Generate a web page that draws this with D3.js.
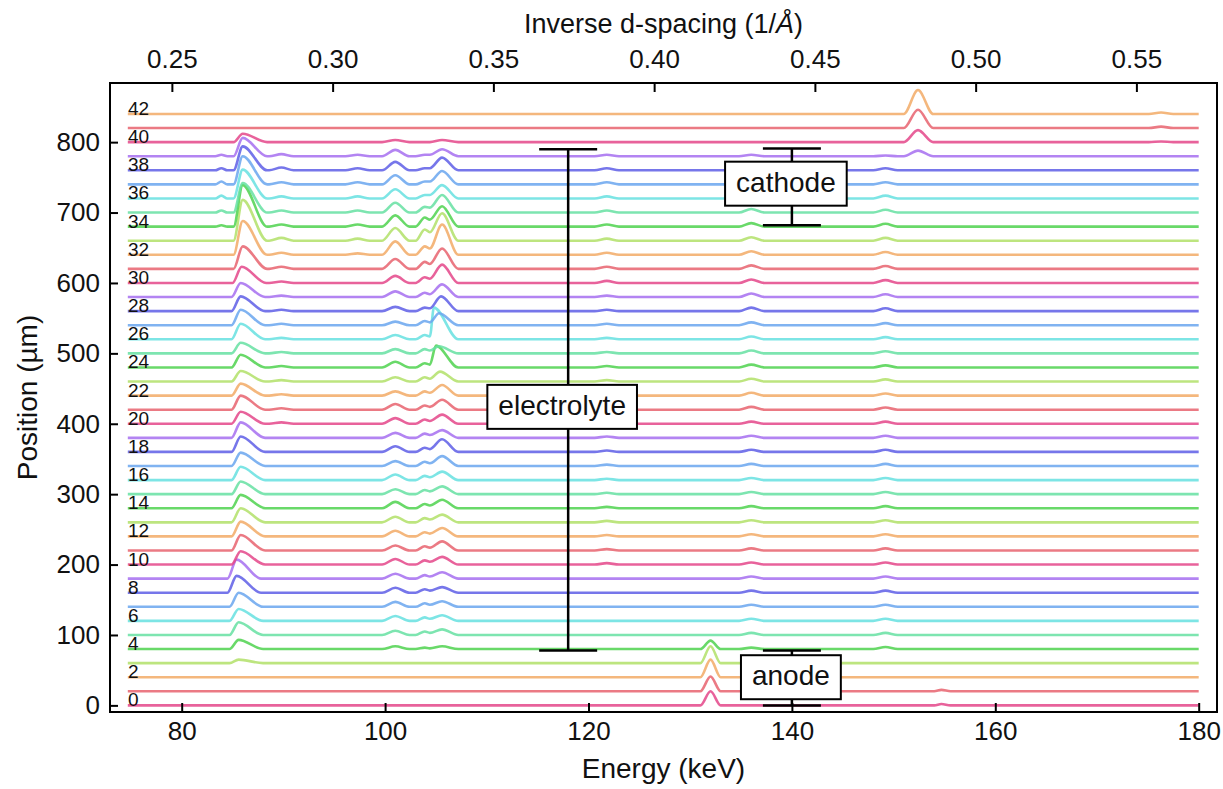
<!DOCTYPE html>
<html>
<head>
<meta charset="utf-8">
<script src="https://cdn.jsdelivr.net/npm/d3@7"></script>
<style>
  body { margin: 0; background: #fff; }
  svg { font-family: "Liberation Sans", Arial, sans-serif; }
</style>
</head>
<body>
<svg id="chart" width="1223" height="789"></svg>
<script>
// scan positions (µm), one spectrum each
const positions = [0, 20, 40, 60, 80, 100, 120, 140, 160, 180, 200, 220, 240, 260, 280, 300, 320, 340, 360, 380, 400,
  420, 440, 460, 480, 500, 520, 540, 560, 580, 600, 620, 640, 660, 680, 700, 720, 740, 760, 780, 800, 820, 840];
const scanLabels = ['0', '', '2', '', '4', '', '6', '', '8', '', '10', '', '12', '', '14', '', '16', '', '18', '', '20',
  '', '22', '', '24', '', '26', '', '28', '', '30', '', '32', '', '34', '', '36', '', '38', '', '40', '', '42'];
const lineColors = ['#e4468a', '#e8636f', '#f2aa66', '#b2e068', '#4fd24f', '#66e0a2', '#66e0e0', '#6aa6ee', '#5e5ee6', '#a66ef0'];

const energyStart = 74.7, energyEnd = 180;
const energyTicks = [80, 100, 120, 140, 160, 180];
const positionTicks = [0, 100, 200, 300, 400, 500, 600, 700, 800];
const invDTicks = [0.25, 0.30, 0.35, 0.40, 0.45, 0.50, 0.55];
const invDPerKeV = 0.0031632;

// peak heights (µm of offset) read per scan, index = scan number
const shoulder84 = [0,0,0,0,0,0,0,0,0,0,0,0,0,0,0,0,0,0,0,0,0,0,0,0,0,0,0,0,0,0,0,0,0,0,2,3,4,4,3,2,0,0,0];
const peak86E = [85.8,85.8,85.8,85.6,85.6,85.6,85.6,85.6,85.4,85.4,85.8,85.8,85.8,85.8,85.8,85.8,85.8,85.8,85.8,85.8,85.8,
  85.8,85.8,85.8,85.8,85.8,85.8,85.8,85.8,85.8,85.9,86.0,86.0,86.0,86.0,86.0,86.0,86.0,86.0,86.0,86.0,86.0,86.0];
const peak86 = [0,0,0,5,13,18,17,20,24,27,19,22,21,20,19,18,19,19,22,22,17,20,17,15,18,15,22,22,21,20,23,32,48,58,59,42,41,40,34,26,12,0,0];
const bump90 = [0,0,0,0,0,0,0,0,0,0,0,0,0,0,0,0,0,0,0,0,2,2,2,2,2,2,2,2,2,2,2,3,3,4,3,3,3,3,4,3,0,0,0];
const bump97 = [0,0,0,0,0,0,0,0,0,0,0,0,0,0,0,0,0,0,0,0,0,0,0,0,0,0,0,0,0,0,0,0,2,3,3,3,3,3,3,2,0,0,0];
const peak101 = [0,0,0,0,4,6,7,7,7,7,8,7,8,8,9,7,8,7,8,7,8,8,6,6,8,6,6,5,6,8,10,14,19,18,16,14,13,13,12,9,3,0,0];
const peak104 = [0,0,0,0,2,5,5,5,5,5,6,6,6,6,6,6,6,6,6,6,6,6,6,6,6,6,6,6,5,6,8,10,12,16,13,8,5,4,3,2,0,0,0];
const valley104 = [0,0,0,0,1,3,3,3,3,3,4,4,4,4,4,4,4,4,4,4,4,4,4,4,4,4,4,4,4,4,6,7,9,12,10,7,5,4,3,2,0,0,0];
const peak105E = [105.6,105.6,105.6,105.6,105.6,105.6,105.6,105.6,105.6,105.6,105.6,105.6,105.6,105.6,105.6,105.6,105.6,105.6,105.6,105.6,105.6,
  105.6,105.6,105.4,105.0,105.3,104.8,105.3,105.5,105.6,105.6,105.6,105.6,105.6,105.6,105.6,105.6,105.6,105.6,105.6,105.6,105.6,105.6];
const peak105 = [0,0,0,0,4,8,8,8,8,9,11,13,12,11,12,11,12,14,18,11,13,14,15,14,31,10,45,17,21,18,26,29,43,39,29,25,19,19,18,10,3,0,0];
const bump122 = [0,0,0,0,0,0,0,0,0,0,2,2,2,2,2,2,2,2,2,2,2,2,2,2,2,2,2,2,2,2,3,3,3,3,3,3,3,3,3,2,0,0,0];
const anode132 = [20,21,25,24,12,0,0,0,0,0,0,0,0,0,0,0,0,0,0,0,0,0,0,0,0,0,0,0,0,0,0,0,0,0,0,0,0,0,0,0,0,0,0];
const bump136 = [0,0,0,0,2,3,3,3,3,3,3,3,3,3,3,3,3,3,3,3,3,4,4,4,4,4,4,4,5,5,5,5,5,5,5,5,4,4,3,2,0,0,0];
const bump149 = [0,0,0,0,3,3,3,3,3,3,3,3,3,3,3,3,3,3,3,3,3,3,3,3,3,3,3,3,4,4,4,4,4,4,4,4,4,3,3,1,0,0,0];
const cathode152 = [0,0,0,0,0,0,0,0,0,0,0,0,0,0,0,0,0,0,0,0,0,0,0,0,0,0,0,0,0,0,0,0,0,0,0,0,0,0,0,8,17,26,34];
const bump154 = [2,2,0,0,0,0,0,0,0,0,0,0,0,0,0,0,0,0,0,0,0,0,0,0,0,0,0,0,0,0,0,0,0,0,0,0,0,0,0,0,0,0,0];
const bump176 = [0,0,0,0,0,0,0,0,0,0,0,0,0,0,0,0,0,0,0,0,0,0,0,0,0,0,0,0,0,0,0,0,0,0,0,0,0,0,0,0,1,2,2];

// region brackets: energy of the bar, start / end position, label position
const regionNames = ['anode', 'electrolyte', 'cathode'];
const regionEnergy = [140, 118, 140];
const regionFrom = [0, 78, 682];
const regionTo = [78, 790, 791];
const regionLabelAt = [40, 424, 741];
const regionLabelShift = [-1, -6, -6];

const frame = { left: 110, right: 1217, top: 83, bottom: 712 };

const svg = d3.select('#chart');

const x = d3.scaleLinear().domain([72.95, 181.8]).range([frame.left, frame.right]);
const y = d3.scaleLinear().domain([-9.4, 884]).range([frame.bottom, frame.top]);
const xTop = d3.scaleLinear().domain(x.domain().map(e => e * invDPerKeV)).range(x.range());

function knotsFor(i) {
    const k = [[energyStart, 0]];
    const bump = (c, h, l, r) => { k.push([c - l, 0], [c, h], [c + r, 0]); };
    bump(83.9, shoulder84[i], 0.6, 0.6);
    bump(peak86E[i], peak86[i], 0.9, 2.4);
    bump(89.8, bump90[i], 1.2, 1.2);
    bump(97.3, bump97[i], 1.2, 1.2);
    bump(101.0, peak101[i], 1.3, 1.4);
    k.push([103.0, 0], [103.9, peak104[i]], [104.4, valley104[i]], [peak105E[i], peak105[i]], [107.2, 0]);
    bump(121.8, bump122[i], 1.2, 1.2);
    bump(132.0, anode132[i], 1.0, 1.0);
    bump(136.0, bump136[i], 1.2, 1.3);
    bump(149.2, bump149[i], 1.2, 1.2);
    bump(152.4, cathode152[i], 1.4, 1.5);
    bump(154.7, bump154[i], 0.7, 0.9);
    bump(176.3, bump176[i], 1.2, 1.2);
    k.push([energyEnd, 0]);
    return k;
}

// spectra
const traces = svg.append('g');
positions.forEach((pos, i) => {
    const line = d3.line()
        .x(d => x(d[0]))
        .y(d => y(pos + d[1]))
        .curve(d3.curveMonotoneX);
    traces.append('path')
        .attr('d', line(knotsFor(i)))
        .attr('fill', 'none')
        .attr('stroke', lineColors[i % lineColors.length])
        .attr('stroke-opacity', 0.85)
        .attr('stroke-width', 2.6)
        .attr('stroke-linejoin', 'round');
});

// scan numbers
svg.append('g').selectAll('text')
    .data(positions.map((p, i) => ({ p, t: scanLabels[i] })).filter(d => d.t))
    .enter().append('text')
    .attr('x', 128)
    .attr('y', d => y(d.p) + 1)
    .attr('font-size', 19)
    .attr('fill', '#111')
    .text(d => d.t);

// brackets with boxed labels
const capHalf = 29;
const ann = svg.append('g');
regionNames.forEach((name, i) => {
    const cx = x(regionEnergy[i]);
    const y1 = y(regionFrom[i]), y2 = y(regionTo[i]);
    ann.append('line').attr('x1', cx).attr('x2', cx).attr('y1', y1).attr('y2', y2)
        .attr('stroke', '#000').attr('stroke-width', 2.5);
    [y1, y2].forEach(yy => {
        ann.append('line').attr('x1', cx - capHalf).attr('x2', cx + capHalf).attr('y1', yy).attr('y2', yy)
            .attr('stroke', '#000').attr('stroke-width', 2.5);
    });
    const lx = cx + regionLabelShift[i];
    const cy = y(regionLabelAt[i]);
    const box = ann.append('rect').attr('fill', '#fff').attr('stroke', '#000').attr('stroke-width', 2);
    const txt = ann.append('text')
        .attr('x', lx).attr('y', cy + 8)
        .attr('text-anchor', 'middle')
        .attr('font-size', 28)
        .attr('fill', '#111')
        .text(name);
    const tw = txt.node().getComputedTextLength();
    box.attr('x', lx - tw / 2 - 11).attr('width', tw + 22)
        .attr('y', cy - 22).attr('height', 44);
});

// axes, ticks pointing inward
const bottomAxis = svg.append('g')
    .attr('transform', `translate(0,${frame.bottom})`)
    .call(d3.axisBottom(x).tickValues(energyTicks).tickSize(-9).tickPadding(10).tickFormat(d3.format('d')));
const leftAxis = svg.append('g')
    .attr('transform', `translate(${frame.left},0)`)
    .call(d3.axisLeft(y).tickValues(positionTicks).tickSize(-8).tickPadding(10).tickFormat(d3.format('d')));
const topAxis = svg.append('g')
    .attr('transform', `translate(0,${frame.top})`)
    .call(d3.axisTop(xTop).tickValues(invDTicks).tickSize(-9).tickPadding(15).tickFormat(d3.format('.2f')));

[bottomAxis, leftAxis, topAxis].forEach(g => {
    g.select('.domain').remove();
    g.selectAll('.tick line').attr('stroke', '#000').attr('stroke-width', 2);
    g.selectAll('.tick text').attr('font-size', 26).attr('fill', '#111')
        .attr('font-family', '"Liberation Sans", Arial, sans-serif');
});

svg.append('rect')
    .attr('x', frame.left).attr('y', frame.top)
    .attr('width', frame.right - frame.left).attr('height', frame.bottom - frame.top)
    .attr('fill', 'none').attr('stroke', '#000').attr('stroke-width', 2);

// titles
svg.append('text')
    .attr('x', (frame.left + frame.right) / 2).attr('y', 778)
    .attr('text-anchor', 'middle').attr('font-size', 28).attr('fill', '#111')
    .text('Energy (keV)');

const topTitle = svg.append('text')
    .attr('x', (frame.left + frame.right) / 2).attr('y', 33)
    .attr('text-anchor', 'middle').attr('font-size', 27).attr('fill', '#111');
topTitle.append('tspan').text('Inverse d-spacing (1/');
topTitle.append('tspan').attr('font-style', 'italic').text('Å');
topTitle.append('tspan').text(')');

svg.append('text')
    .attr('transform', `translate(37,${(frame.top + frame.bottom) / 2}) rotate(-90)`)
    .attr('text-anchor', 'middle').attr('font-size', 28).attr('fill', '#111')
    .text('Position (µm)');
</script>
</body>
</html>
